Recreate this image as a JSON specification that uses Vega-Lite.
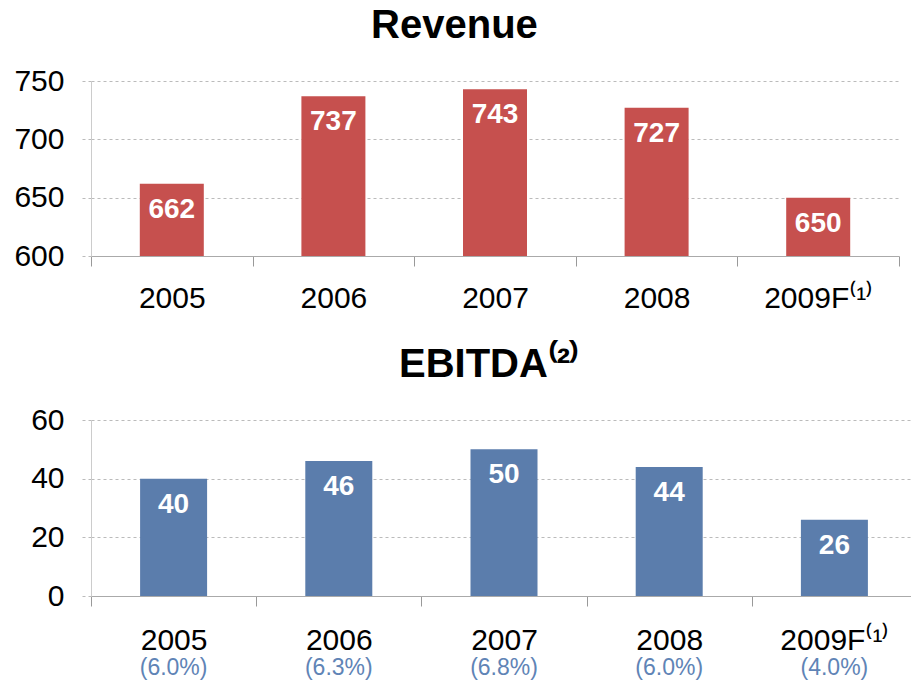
{
  "$schema": "https://vega.github.io/schema/vega-lite/v6.json",
  "padding": {"left": 13, "top": 6, "right": 0, "bottom": 0},
  "config": {"font": "Liberation Sans", "view": {"stroke": null}, "title": {"fontSize": 40, "fontWeight": "bold", "color": "#000000", "offset": 20, "frame": "bounds", "anchor": "middle"}},
  "datasets": {
    "fin": [
      {"year": "2005", "revenue": 662, "ebitda": 40, "margin": "(6.0%)"},
      {"year": "2006", "revenue": 737, "ebitda": 46, "margin": "(6.3%)"},
      {"year": "2007", "revenue": 743, "ebitda": 50, "margin": "(6.8%)"},
      {"year": "2008", "revenue": 727, "ebitda": 44, "margin": "(6.0%)"},
      {"year": "2009F", "revenue": 650, "ebitda": 26, "margin": "(4.0%)"}
    ]
  },
  "spacing": 32,
  "vconcat": [
    {
      "title": {"text": "Revenue", "dx": -7},
      "width": 818,
      "height": 175,
      "data": {"name": "fin"},
      "encoding": {
        "x": {"field": "year", "type": "nominal", "sort": null, "scale": {"padding": 0, "range": [0, 808]},
          "axis": {"title": null, "labelAngle": 0, "labelFontSize": 30, "labelColor": "#000000", "labelExpr": "datum.value == '2009F' ? '2009F⁽¹⁾' : datum.value", "tickBand": "extent", "tickSize": 10, "tickColor": "#999999", "domainColor": "#aaaaaa", "labelPadding": 17}}
      },
      "layer": [
        {"mark": {"type": "bar", "size": 64, "color": "#C6504E", "clip": true},
          "encoding": {"y": {"field": "revenue", "type": "quantitative", "scale": {"domain": [600, 750], "zero": false, "nice": false},
            "axis": {"title": null, "values": [600, 650, 700, 750], "labelFontSize": 30, "labelColor": "#000000", "gridDash": [3, 3], "gridColor": "#bbbbbb", "tickDash": [3, 3], "tickColor": "#bbbbbb", "tickSize": 9, "domainColor": "#cccccc", "labelPadding": 18}}}},
        {"mark": {"type": "text", "baseline": "top", "dy": 12, "color": "white", "fontWeight": "bold", "fontSize": 28},
          "encoding": {"y": {"field": "revenue", "type": "quantitative"}, "text": {"field": "revenue", "type": "quantitative"}}}
      ]
    },
    {
      "spacing": 1,
      "vconcat": [
        {
          "title": {"text": "EBITDA⁽²⁾", "dx": 15},
          "width": 820,
          "height": 176,
          "data": {"name": "fin"},
          "encoding": {
            "x": {"field": "year", "type": "nominal", "sort": null, "scale": {"padding": 0, "range": [0, 826]},
              "axis": {"title": null, "labelAngle": 0, "labelFontSize": 30, "labelColor": "#000000", "labelExpr": "datum.value == '2009F' ? '2009F⁽¹⁾' : datum.value", "tickBand": "extent", "tickSize": 10, "tickColor": "#999999", "domainColor": "#aaaaaa", "labelPadding": 19}}
          },
          "layer": [
            {"mark": {"type": "bar", "size": 67, "color": "#5B7DAC"},
              "encoding": {"y": {"field": "ebitda", "type": "quantitative", "scale": {"domain": [0, 60], "nice": false},
                "axis": {"title": null, "values": [0, 20, 40, 60], "labelFontSize": 30, "labelColor": "#000000", "gridDash": [3, 3], "gridColor": "#bbbbbb", "tickDash": [3, 3], "tickColor": "#bbbbbb", "tickSize": 9, "domainColor": "#cccccc", "labelPadding": 18}}}},
            {"mark": {"type": "text", "baseline": "top", "dy": 12, "color": "white", "fontWeight": "bold", "fontSize": 28},
              "encoding": {"y": {"field": "ebitda", "type": "quantitative"}, "text": {"field": "ebitda", "type": "quantitative"}}}
          ]
        },
        {
          "width": 820,
          "height": 24,
          "data": {"name": "fin"},
          "mark": {"type": "text", "fontSize": 23, "color": "#5F84B6"},
          "encoding": {
            "x": {"field": "year", "type": "nominal", "sort": null, "scale": {"type": "band", "padding": 0, "range": [0, 826]}, "axis": null},
            "text": {"field": "margin"}
          }
        }
      ]
    }
  ]
}
